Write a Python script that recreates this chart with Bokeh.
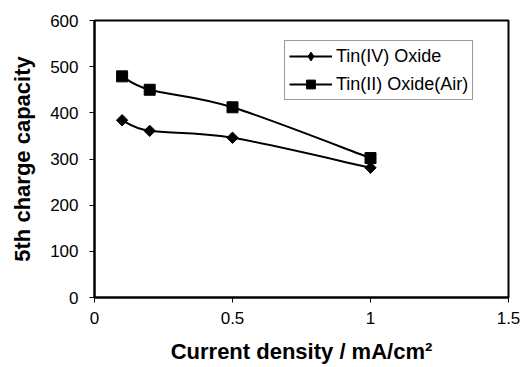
import math
from bokeh.plotting import figure
from bokeh.models import Range1d, Legend, LegendItem, FixedTicker, ColumnDataSource
from bokeh.embed import file_html
from bokeh.resources import INLINE

current_density = [0.1, 0.2, 0.5, 1.0]
tin_iv_oxide = [384, 361, 346, 281]
tin_ii_oxide_air = [479, 450, 412, 302]
x_ticks = [0, 0.5, 1, 1.5]
y_ticks = [0, 100, 200, 300, 400, 500, 600]
series_names = ["Tin(IV) Oxide", "Tin(II) Oxide(Air)"]

FONT = "Liberation Sans"

p = figure(width=522, height=367, output_backend="svg", toolbar_location=None,
           x_range=Range1d(0, 1.5), y_range=Range1d(0, 600),
           min_border_left=94, min_border_right=14, min_border_top=20, min_border_bottom=70)
p.grid.visible = False
p.background_fill_color = "white"
p.border_fill_color = "white"
p.outline_line_color = "black"
p.outline_line_width = 2


def smooth_segments(xs, ys):
    # Catmull-Rom style smoothing expressed as cubic bezier control points
    n = len(xs)
    d = dict(x0=[], y0=[], x1=[], y1=[], cx0=[], cy0=[], cx1=[], cy1=[])
    for i in range(n - 1):
        xa, ya = xs[max(i - 1, 0)], ys[max(i - 1, 0)]
        xb, yb = xs[i], ys[i]
        xc, yc = xs[i + 1], ys[i + 1]
        xd, yd = xs[min(i + 2, n - 1)], ys[min(i + 2, n - 1)]
        d["x0"].append(xb); d["y0"].append(yb)
        d["x1"].append(xc); d["y1"].append(yc)
        d["cx0"].append(xb + (xc - xa) / 6); d["cy0"].append(yb + (yc - ya) / 6)
        d["cx1"].append(xc - (xd - xb) / 6); d["cy1"].append(yc - (yd - yb) / 6)
    return ColumnDataSource(d)


styles = [
    (tin_iv_oxide, math.pi / 4, 8, "diamond", 9, series_names[0]),
    (tin_ii_oxide_air, 0, 11, "square", 7, series_names[1]),
]
items = []
for ys, ang, size, lmarker, lsize, name in styles:
    p.bezier(x0="x0", y0="y0", x1="x1", y1="y1", cx0="cx0", cy0="cy0",
             cx1="cx1", cy1="cy1", source=smooth_segments(current_density, ys),
             line_color="black", line_width=2)
    p.scatter(current_density, ys, marker="square", angle=ang, size=size,
              fill_color="black", line_color="black")
    # legend glyphs: a one-point line (draws nothing in the plot) and smaller
    # markers hidden beneath the plot markers
    ln = p.line(current_density[:1], ys[:1], line_color="black", line_width=2)
    sc = p.scatter(current_density, ys, marker=lmarker, size=lsize,
                   fill_color="black", line_color="black")
    items.append(LegendItem(label=name, renderers=[ln, sc]))

legend = Legend(items=items, location=(190, 197), border_line_color="#333333",
                border_line_width=1, label_text_font=FONT, label_text_font_size="18px",
                label_text_color="black",
                glyph_width=43, glyph_height=22, label_height=22, padding=4, spacing=6,
                margin=0, label_standoff=4, background_fill_alpha=1)
p.add_layout(legend, "center")

for ax in (p.xaxis[0], p.yaxis[0]):
    ax.axis_line_color = "black"
    ax.axis_line_width = 2
    ax.major_tick_line_color = "black"
    ax.major_tick_line_width = 1
    ax.major_tick_in = 0
    ax.major_tick_out = 5
    ax.minor_tick_line_color = None
    ax.major_label_text_font = FONT
    ax.major_label_text_font_size = "17px"
    ax.major_label_text_color = "black"
    ax.axis_label_text_font = FONT
    ax.axis_label_text_font_style = "bold"
    ax.axis_label_text_color = "black"

p.xaxis.ticker = FixedTicker(ticks=x_ticks)
p.yaxis.ticker = FixedTicker(ticks=y_ticks)
p.xaxis.major_label_overrides = {1.5: "1.5", 1: "1", 0: "0", 0.5: "0.5"}
p.xaxis.major_label_standoff = 9
p.yaxis.major_label_standoff = 11
p.xaxis.axis_label = "Current density / mA/cm²"
p.yaxis.axis_label = "5th charge capacity"
p.xaxis.axis_label_text_font_size = "22px"
p.yaxis.axis_label_text_font_size = "22px"
p.xaxis.axis_label_standoff = 12
p.yaxis.axis_label_standoff = 12

open("out.html", "w").write(file_html(p, INLINE))
